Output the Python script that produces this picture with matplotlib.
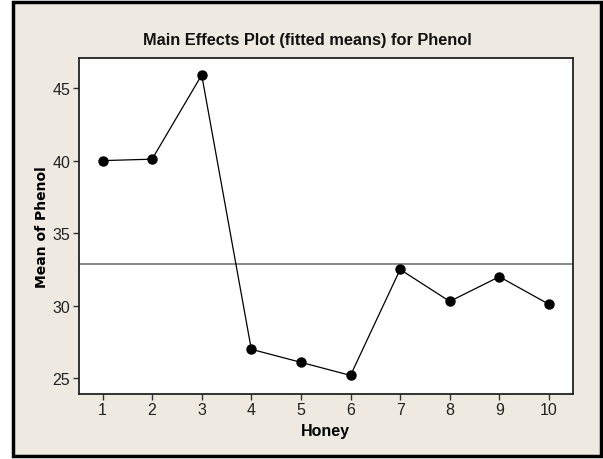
import matplotlib
matplotlib.use("Agg")
import matplotlib.pyplot as plt
from matplotlib.patches import Rectangle

# fitted means for each honey sample
honey = [1, 2, 3, 4, 5, 6, 7, 8, 9, 10]
phenol_mean = [40.0, 40.1, 45.9, 27.0, 26.1, 25.2, 32.5, 30.3, 32.0, 30.1]
grand_mean = 32.9
yticks = [25, 30, 35, 40, 45]

plt.rcParams["font.family"] = ["Liberation Sans", "DejaVu Sans"]

fig = plt.figure(figsize=(6.03, 4.6), dpi=100)
fig.patch.set_facecolor("white")

# beige panel with dark frame, like the minitab graph window
fig.patches.append(Rectangle((0.0216, 0.0065), 0.975, 0.987, transform=fig.transFigure,
                             facecolor="#eeeae1", edgecolor="black", linewidth=2.5, zorder=-1))

ax = fig.add_axes([0.1305, 0.142, 0.8193, 0.7297])
ax.set_facecolor("white")

ax.axhline(grand_mean, color="#808080", linewidth=1.3, zorder=1)
ax.plot(honey, phenol_mean, color="black", linewidth=0.9, marker="o",
        markersize=6.5, zorder=2)

ax.set_xlim(0.52, 10.48)
ax.set_ylim(23.94, 47.07)
ax.set_xticks(honey)
ax.set_yticks(yticks)
ax.tick_params(direction="out", length=4, width=1, color="#333333",
               labelsize=11.5, pad=2, labelcolor="#222222")
for s in ax.spines.values():
    s.set_color("#222222")
    s.set_linewidth(1.3)

ax.set_xlabel("Honey", fontsize=11.5, fontweight="bold", labelpad=4)
ax.set_ylabel("Mean of Phenol", fontsize=10, fontweight="bold", labelpad=2.5,
              family="DejaVu Sans")

fig.text(0.509, 0.913, "Main Effects Plot (fitted means) for Phenol",
         ha="center", va="center", fontsize=11.8, fontweight="bold",
         color="#111111")

fig.savefig("out.png", dpi=100)
